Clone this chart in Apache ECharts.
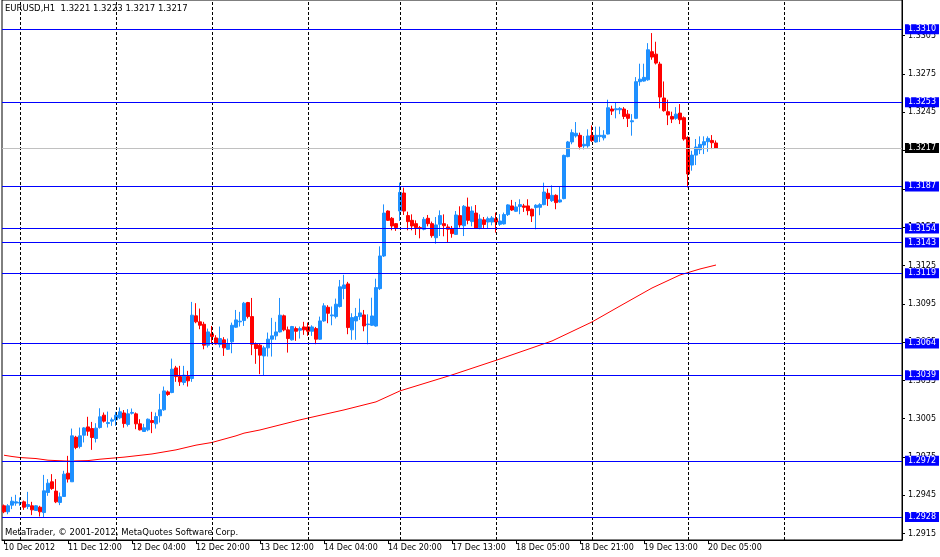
<!DOCTYPE html>
<html>
<head>
<meta charset="utf-8">
<script src="https://cdn.jsdelivr.net/npm/echarts@6/dist/echarts.min.js"></script>
<style>
html,body{margin:0;padding:0;background:#fff;}
#chart{width:940px;height:557px;}
</style>
</head>
<body>
<div id="chart"></div>
<script>
// ---- data (EURUSD H1, first bar 10 Dec 2012 20:00) ----
const opens = [
1.29368,1.29321,1.29373,1.29389,1.29389,1.29399,1.29362,1.29368,1.29331,1.29357,
1.29315,1.29472,1.29556,1.29483,1.29394,1.29441,1.29623,1.29556,1.29905,1.29832,
1.29921,1.29986,1.29973,1.29895,1.29981,1.30078,1.30012,1.30031,1.30041,1.30057,
1.30095,1.30005,1.30093,1.30088,1.30010,1.29950,1.29963,1.30036,1.30010,1.30073,
1.30120,1.30260,1.30255,1.30448,1.30380,1.30334,1.30380,1.30365,1.30856,1.30809,
1.30790,1.30626,1.30715,1.30683,1.30631,1.30668,1.30594,1.30652,1.30767,1.30809,
1.30819,1.30960,1.30850,1.30634,1.30626,1.30542,1.30605,1.30673,1.30699,1.30730,
1.30856,1.30746,1.30668,1.30756,1.30743,1.30769,1.30769,1.30735,1.30756,1.30673,
1.30816,1.30923,1.30856,1.30850,1.30929,1.31070,1.31106,1.30746,1.30816,1.30850,
1.30863,1.30787,1.30782,1.30776,1.31069,1.31325,1.31677,1.31620,1.31578,1.31677,
1.31818,1.31641,1.31604,1.31578,1.31547,1.31534,1.31620,1.31578,1.31468,1.31573,
1.31578,1.31552,1.31541,1.31494,1.31641,1.31562,1.31708,1.31594,1.31661,1.31547,
1.31608,1.31591,1.31591,1.31617,1.31573,1.31576,1.31649,1.31717,1.31675,1.31712,
1.31717,1.31717,1.31691,1.31704,1.31706,1.31727,1.31816,1.31758,1.31800,1.31748,
1.31774,1.32103,1.32218,1.32265,1.32270,1.32187,1.32187,1.32270,1.32218,1.32260,
1.32250,1.32280,1.32476,1.32470,1.32470,1.32476,1.32436,1.32376,1.32403,1.32690,
1.32695,1.32705,1.32925,1.32906,1.32828,1.32562,1.32455,1.32418,1.32403,1.32444,
1.32408,1.32254,1.32037,1.32115,1.32157,1.32194,1.32220,1.32230,1.3221
];
const highs = [
1.29378,1.29381,1.29438,1.29454,1.29433,1.29409,1.29477,1.29399,1.29373,1.29368,
1.29610,1.29577,1.29616,1.29577,1.29472,1.29642,1.29759,1.29973,1.29916,1.29981,
1.29984,1.30065,1.30025,1.30015,1.30132,1.30099,1.30106,1.30059,1.30104,1.30138,
1.30118,1.30125,1.30130,1.30099,1.30046,1.30010,1.30052,1.30104,1.30099,1.30245,
1.30302,1.30271,1.30521,1.30464,1.30464,1.30464,1.30425,1.30965,1.30955,1.30913,
1.30809,1.30756,1.30777,1.30704,1.30772,1.30689,1.30678,1.30803,1.30902,1.30887,
1.30965,1.30965,1.30996,1.30647,1.30642,1.30621,1.30725,1.30840,1.30809,1.30996,
1.30866,1.30772,1.30777,1.30772,1.30772,1.30809,1.30803,1.30782,1.30769,1.30850,
1.30955,1.30939,1.30929,1.30991,1.31137,1.31177,1.31122,1.30876,1.30918,1.30991,
1.30902,1.30868,1.30998,1.31147,1.31400,1.31729,1.31682,1.31630,1.31583,1.31899,
1.31860,1.31672,1.31651,1.31604,1.31560,1.31630,1.31646,1.31594,1.31630,1.31682,
1.31651,1.31573,1.31560,1.31677,1.31714,1.31724,1.31782,1.31714,1.31724,1.31651,
1.31630,1.31633,1.31638,1.31665,1.31652,1.31665,1.31730,1.31764,1.31748,1.31769,
1.31733,1.31769,1.31696,1.31730,1.31738,1.31899,1.31852,1.31878,1.31808,1.31868,
1.32119,1.32226,1.32317,1.32374,1.32291,1.32265,1.32317,1.32348,1.32338,1.32338,
1.32310,1.32549,1.32502,1.32523,1.32491,1.32491,1.32468,1.32436,1.32726,1.32831,
1.32831,1.32992,1.33071,1.33003,1.32846,1.32692,1.32549,1.32455,1.32491,1.32515,
1.32418,1.32262,1.32149,1.32241,1.32262,1.32262,1.32262,1.32272,1.3223
];
const lows = [
1.29310,1.29302,1.29342,1.29368,1.29368,1.29336,1.29342,1.29295,1.29329,1.29284,
1.29276,1.29446,1.29493,1.29389,1.29373,1.29438,1.29550,1.29556,1.29811,1.29817,
1.29864,1.29916,1.29806,1.29864,1.29973,1.30020,1.29981,1.29994,1.29994,1.30046,
1.29980,1.29989,1.30083,1.29968,1.29958,1.29950,1.29952,1.29937,1.29973,1.30020,
1.30112,1.30229,1.30250,1.30339,1.30307,1.30313,1.30302,1.30339,1.30798,1.30751,
1.30594,1.30608,1.30634,1.30631,1.30608,1.30542,1.30589,1.30563,1.30762,1.30772,
1.30777,1.30835,1.30548,1.30480,1.30399,1.30386,1.30537,1.30537,1.30668,1.30725,
1.30735,1.30568,1.30662,1.30660,1.30678,1.30707,1.30699,1.30699,1.30634,1.30668,
1.30809,1.30798,1.30782,1.30835,1.30921,1.30986,1.30712,1.30668,1.30668,1.30824,
1.30735,1.30633,1.30776,1.30771,1.31058,1.31317,1.31599,1.31526,1.31521,1.31599,
1.31646,1.31526,1.31526,1.31489,1.31463,1.31526,1.31557,1.31468,1.31421,1.31481,
1.31479,1.31429,1.31468,1.31489,1.31547,1.31481,1.31573,1.31557,1.31536,1.31534,
1.31540,1.31539,1.31565,1.31508,1.31560,1.31571,1.31638,1.31678,1.31670,1.31652,
1.31670,1.31644,1.31591,1.31534,1.31644,1.31722,1.31717,1.31748,1.31691,1.31743,
1.31769,1.32098,1.32200,1.32252,1.32160,1.32160,1.32173,1.32218,1.32213,1.32218,
1.32230,1.32277,1.32429,1.32403,1.32436,1.32397,1.32335,1.32267,1.32397,1.32658,
1.32690,1.32697,1.32862,1.32825,1.32481,1.32455,1.32350,1.32366,1.32392,1.32358,
1.32228,1.31862,1.31993,1.32037,1.32123,1.32123,1.32141,1.32162,1.3217
];
const closes = [
1.29321,1.29368,1.29404,1.29399,1.29394,1.29357,1.29378,1.29336,1.29368,1.29321,
1.29485,1.29545,1.29503,1.29399,1.29438,1.29616,1.29577,1.29916,1.29824,1.29916,
1.29978,1.29952,1.29903,1.29976,1.30065,1.30031,1.30020,1.30041,1.30078,1.30104,
1.30012,1.30088,1.30099,1.30010,1.29963,1.29979,1.30046,1.30020,1.30067,1.30120,
1.30268,1.30240,1.30438,1.30380,1.30339,1.30391,1.30347,1.30861,1.30809,1.30782,
1.30626,1.30730,1.30694,1.30636,1.30678,1.30605,1.30636,1.30782,1.30824,1.30814,
1.30955,1.30850,1.30634,1.30600,1.30548,1.30605,1.30673,1.30699,1.30730,1.30861,
1.30746,1.30678,1.30772,1.30735,1.30756,1.30746,1.30735,1.30769,1.30673,1.30816,
1.30934,1.30876,1.30863,1.30947,1.31083,1.31098,1.30764,1.30842,1.30850,1.30879,
1.30777,1.30792,1.30855,1.31077,1.31325,1.31661,1.31604,1.31560,1.31547,1.31823,
1.31677,1.31594,1.31560,1.31547,1.31539,1.31612,1.31578,1.31484,1.31568,1.31641,
1.31562,1.31534,1.31500,1.31646,1.31568,1.31714,1.31604,1.31677,1.31541,1.31614,
1.31572,1.31617,1.31623,1.31591,1.31599,1.31649,1.31725,1.31685,1.31709,1.31727,
1.31706,1.31680,1.31638,1.31722,1.31727,1.31826,1.31774,1.31800,1.31743,1.31764,
1.32113,1.32218,1.32291,1.32286,1.32181,1.32200,1.32265,1.32228,1.32270,1.32270,
1.32271,1.32486,1.32460,1.32478,1.32481,1.32418,1.32403,1.32384,1.32690,1.32710,
1.32724,1.32940,1.32883,1.32836,1.32570,1.32463,1.32429,1.32397,1.32436,1.32392,
1.32241,1.31967,1.32115,1.32178,1.32199,1.32220,1.32246,1.32212,1.3217
];
// moving average (red line) read at selected bars
const maIdx = [0,2,4,8,11,16,21,24,27,30,37,43,48,52,55,58,60,64,74,85,93,99,112,124,137,147,154,162,169,174,178];
const maVal = [1.29764,1.29754,1.29746,1.29738,1.29725,1.29718,1.29722,1.29733,1.29741,1.29749,
               1.29774,1.29806,1.29843,1.29864,1.29890,1.29916,1.29937,1.29962,1.30041,1.30119,
               1.30182,1.30268,1.30393,1.30518,1.30659,1.30808,1.30933,1.31074,1.31176,1.31223,1.31254];
// horizontal level lines
const blueLevels = [1.3310,1.3253,1.3187,1.3154,1.3143,1.3119,1.3064,1.3039,1.2972,1.2928];
const bidLevel = 1.3217;
// price axis tick labels
const yTicks = [1.2915,1.2945,1.2975,1.3005,1.3035,1.3065,1.3095,1.3125,1.3155,1.3185,1.3215,1.3245,1.3275,1.3305];
// time axis tick labels and their bar indices
const tickLabels = ['10 Dec 2012','11 Dec 12:00','12 Dec 04:00','12 Dec 20:00','13 Dec 12:00','14 Dec 04:00',
                    '14 Dec 20:00','17 Dec 13:00','18 Dec 05:00','18 Dec 21:00','19 Dec 13:00','20 Dec 05:00'];
const tickIdx = [0,16,32,48,64,80,96,112,128,144,160,176];
// day separators (00:00 bars), including the empty future area
const dayIdx = [4,28,52,76,99,123,147,171,195];
const slotCount = 225; // bar slots across the chart, right part left empty (chart shift)

const categories = Array.from({length: slotCount}, (_, i) => String(i));
const ohlc = opens.map((o, i) => [o, closes[i], lows[i], highs[i]]);
const maData = maIdx.map((x, k) => [x, maVal[k]]);

const FONT = 'DejaVu Sans';
const chart = echarts.init(document.getElementById('chart'), null, {renderer: 'canvas'});

const levelLines = blueLevels.map(v => ({
  yAxis: v,
  lineStyle: {color: '#0000ff', width: 1, type: 'solid'},
  label: {show: true, position: 'end', formatter: v.toFixed(4), color: '#fff', backgroundColor: '#0000ff',
          fontFamily: FONT, fontSize: 8, padding: [1, 3, 0, 3], distance: 3, lineHeight: 9}
}));
levelLines.unshift({
  yAxis: bidLevel,
  lineStyle: {color: '#c0c0c0', width: 1, type: 'solid'},
  label: {show: true, position: 'end', formatter: bidLevel.toFixed(4), color: '#fff', backgroundColor: '#000',
          fontFamily: FONT, fontSize: 8, padding: [1, 3, 0, 3], distance: 3, lineHeight: 9}
});

chart.setOption({
  animation: false,
  backgroundColor: '#fff',
  grid: {left: 2, top: 0, width: 900, height: 540, show: true, borderColor: '#000', borderWidth: 1, backgroundColor: '#fff'},
  xAxis: {
    type: 'category',
    data: categories,
    boundaryGap: true,
    axisLine: {show: true, lineStyle: {color: '#000'}},
    axisTick: {show: true, alignWithLabel: true, length: 4, interval: (i) => tickIdx.includes(i), lineStyle: {color: '#000'}},
    axisLabel: {
      show: true, interval: (i) => tickIdx.includes(i), align: 'left', margin: 4,
      color: '#000', fontFamily: FONT, fontSize: 8,
      formatter: (v, i) => { const k = tickIdx.indexOf(i); return k >= 0 ? tickLabels[k] : ''; }
    },
    splitLine: {show: false}
  },
  yAxis: {
    type: 'value',
    position: 'right',
    min: 1.2910,
    max: 1.3333,
    scale: true,
    axisLine: {show: true, lineStyle: {color: '#000'}},
    axisTick: {show: true, length: 3, customValues: yTicks, lineStyle: {color: '#000'}},
    axisLabel: {show: true, customValues: yTicks, margin: 6, color: '#000', fontFamily: FONT, fontSize: 8,
                formatter: (v) => v.toFixed(4)},
    splitLine: {show: false}
  },
  series: [
    {
      type: 'line',
      name: 'MA',
      data: maData,
      showSymbol: false,
      symbol: 'none',
      smooth: false,
      lineStyle: {color: '#ff0000', width: 1},
      z: 1,
      silent: true,
      markLine: {
        silent: true,
        symbol: ['none', 'none'],
        label: {show: false},
        lineStyle: {color: '#000', width: 1, type: [3, 2]},
        data: dayIdx.map(i => ({xAxis: i}))
      }
    },
    {
      type: 'candlestick',
      name: 'EURUSD,H1',
      data: ohlc,
      barWidth: 3,
      z: 3,
      itemStyle: {color: '#1e90ff', color0: '#ff0000', borderColor: '#1e90ff', borderColor0: '#ff0000', borderWidth: 1},
      markLine: {
        silent: true,
        symbol: ['none', 'none'],
        precision: 4,
        data: levelLines
      }
    }
  ],
  graphic: [
    {type: 'text', left: 5, top: 4, z: 10,
     style: {text: 'EURUSD,H1  1.3221 1.3223 1.3217 1.3217', fill: '#000', font: '8.5px "DejaVu Sans"'}},
    {type: 'text', left: 5, top: 528, z: 10,
     style: {text: 'MetaTrader, © 2001-2012, MetaQuotes Software Corp.', fill: '#000', font: '8.5px "DejaVu Sans"'}}
  ]
});
</script>
</body>
</html>
